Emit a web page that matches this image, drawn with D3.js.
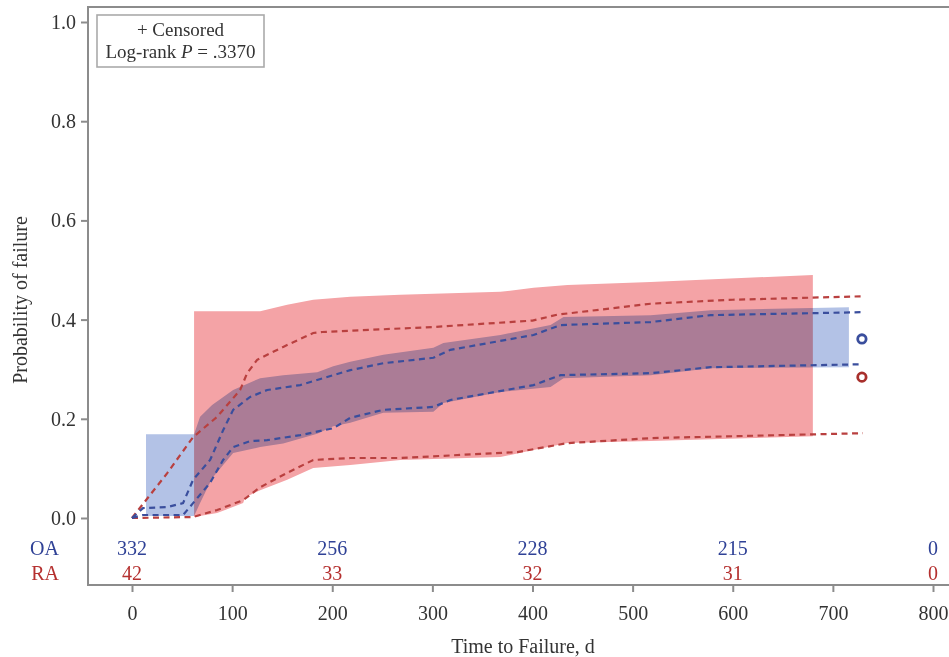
<!DOCTYPE html>
<html>
<head>
<meta charset="utf-8">
<script src="https://cdn.jsdelivr.net/npm/d3@7"></script>
<style>
  html, body { margin: 0; padding: 0; background: #fff; }
  svg { display: block; }
  text { font-family: "Liberation Serif", "Times New Roman", serif; }
</style>
</head>
<body>
<svg id="chart" width="949" height="657"></svg>
<script>
// ---------- data ----------
const groups = ["OA", "RA"];
const xTicks = [0, 100, 200, 300, 400, 500, 600, 700, 800];
const yTicks = [0, 0.2, 0.4, 0.6, 0.8, 1.0];
const riskTimes = [0, 200, 400, 600, 800];
const riskOA = [332, 256, 228, 215, 0];
const riskRA = [42, 33, 32, 31, 0];
const logRankP = ".3370";

// OA pointwise confidence band (filled)
const oaBandT     = [14, 62, 68, 80, 101, 128, 151, 185, 201, 218, 251, 301, 311, 368, 418, 431, 518, 578, 716];
const oaBandLower = [0.004, 0.004, 0.030, 0.080, 0.131, 0.143, 0.150, 0.170, 0.185, 0.192, 0.212, 0.214, 0.232, 0.254, 0.264, 0.282, 0.288, 0.302, 0.304];
const oaBandUpper = [0.169, 0.169, 0.204, 0.228, 0.258, 0.282, 0.288, 0.294, 0.306, 0.315, 0.329, 0.343, 0.353, 0.369, 0.389, 0.405, 0.409, 0.419, 0.425];

// RA pointwise confidence band (filled)
const raBandT     = [62, 85, 111, 113, 128, 155, 181, 218, 268, 368, 401, 435, 518, 680];
const raBandLower = [0.002, 0.010, 0.030, 0.042, 0.056, 0.077, 0.101, 0.107, 0.117, 0.123, 0.137, 0.151, 0.155, 0.165];
const raBandUpper = [0.417, 0.417, 0.417, 0.417, 0.417, 0.430, 0.440, 0.446, 0.450, 0.456, 0.464, 0.470, 0.476, 0.490];

// OA dashed limits
const oaDashT     = [0, 11, 35, 51, 61, 78, 91, 101, 118, 135, 168, 201, 218, 251, 301, 318, 401, 428, 518, 578, 730];
const oaDashUpper = [0, 0.020, 0.022, 0.030, 0.077, 0.117, 0.177, 0.218, 0.244, 0.258, 0.268, 0.288, 0.298, 0.312, 0.323, 0.339, 0.369, 0.389, 0.395, 0.409, 0.415];
const oaDashLower = [0, 0.006, 0.006, 0.006, 0.030, 0.071, 0.117, 0.143, 0.155, 0.157, 0.167, 0.181, 0.202, 0.218, 0.224, 0.238, 0.268, 0.288, 0.292, 0.304, 0.310];

// RA dashed limits
const raDashT     = [0, 35, 61, 85, 108, 115, 125, 151, 181, 190, 300, 400, 425, 518, 600, 730];
const raDashUpper = [0, 0.090, 0.163, 0.204, 0.258, 0.292, 0.319, 0.345, 0.373, 0.375, 0.385, 0.398, 0.410, 0.432, 0.440, 0.447];
const raDashLowT  = [0, 61, 85, 111, 128, 155, 181, 218, 268, 385, 435, 518, 730];
const raDashLower = [0, 0.002, 0.016, 0.036, 0.062, 0.091, 0.117, 0.121, 0.121, 0.133, 0.151, 0.161, 0.171];

// censored marks (estimate at last follow-up)
const censorT = [729, 729];
const censorP = [0.361, 0.284];

// ---------- styles ----------
const blueText = "#2f4196", redText = "#b5302f";
const blueFill = "#b3c2e6", redFill = "#f4a3a6";
const blueDash = "#3a4e9d", redDash = "#b9403f";
const frameCol = "#8c8c8c";

// ---------- scales ----------
const svg = d3.select("#chart");
const x = d3.scaleLinear().domain([0, 800]).range([132, 933]);
const y = d3.scaleLinear().domain([0, 1]).range([518, 22]);

// ---------- bands ----------
const bandG = svg.append("g").style("isolation", "isolate");
function band(ts, lo, hi, color) {
  const pts = ts.map((t, i) => ({t, lo: lo[i], hi: hi[i]}));
  bandG.append("path")
    .datum(pts)
    .attr("d", d3.area().x(d => x(d.t)).y0(d => y(d.lo)).y1(d => y(d.hi)))
    .attr("fill", color)
    .style("mix-blend-mode", "multiply");
}
band(raBandT, raBandLower, raBandUpper, redFill);
band(oaBandT, oaBandLower, oaBandUpper, blueFill);

// ---------- dashed lines ----------
function dashed(ts, vals, color) {
  svg.append("path")
    .datum(ts.map((t, i) => [t, vals[i]]))
    .attr("d", d3.line().x(d => x(d[0])).y(d => y(d[1])))
    .attr("fill", "none")
    .attr("stroke", color)
    .attr("stroke-width", 2.2)
    .attr("stroke-dasharray", "6,4.5");
}
dashed(raDashT, raDashUpper, redDash);
dashed(raDashLowT, raDashLower, redDash);
dashed(oaDashT, oaDashUpper, blueDash);
dashed(oaDashT, oaDashLower, blueDash);

// ---------- censor markers ----------
const censorCols = [blueDash, "#a8302c"];
censorT.forEach((t, i) => {
  svg.append("circle")
    .attr("cx", x(t)).attr("cy", y(censorP[i])).attr("r", 4.2)
    .attr("fill", "#fff").attr("stroke", censorCols[i]).attr("stroke-width", 2.8);
});

// ---------- frame ----------
svg.append("path")
  .attr("d", "M949,7H88V585H949")
  .attr("fill", "none").attr("stroke", frameCol).attr("stroke-width", 2);

// ---------- axes ----------
const yAxis = svg.append("g").attr("transform", "translate(88,0)")
  .call(d3.axisLeft(y).tickValues(yTicks).tickFormat(d3.format(".1f")).tickSize(7).tickPadding(5));
const xAxis = svg.append("g").attr("transform", "translate(0,585)")
  .call(d3.axisBottom(x).tickValues(xTicks).tickFormat(d3.format("d")).tickSize(7).tickPadding(14));
[yAxis, xAxis].forEach(a => {
  a.select(".domain").remove();
  a.selectAll(".tick line").attr("stroke", frameCol).attr("stroke-width", 2);
  a.selectAll(".tick text").attr("fill", "#333").style("font-size", "20px")
    .style("font-family", '"Liberation Serif", serif');
});

// axis titles
svg.append("text")
  .attr("transform", "translate(27,300) rotate(-90)")
  .attr("text-anchor", "middle").attr("fill", "#333")
  .style("font-size", "20px").text("Probability of failure");
svg.append("text")
  .attr("x", 523).attr("y", 653)
  .attr("text-anchor", "middle").attr("fill", "#333")
  .style("font-size", "20px").text("Time to Failure, d");

// ---------- at-risk table ----------
const riskRows = [riskOA, riskRA];
const rowY = [555, 580];
const rowCol = [blueText, redText];
groups.forEach((g, r) => {
  svg.append("text").attr("x", 59).attr("y", rowY[r]).attr("text-anchor", "end")
    .attr("fill", rowCol[r]).style("font-size", "20px").text(g);
  svg.selectAll(null).data(riskTimes).enter().append("text")
    .attr("x", d => x(d)).attr("y", rowY[r]).attr("text-anchor", "middle")
    .attr("fill", rowCol[r]).style("font-size", "20px")
    .text((d, i) => riskRows[r][i]);
});

// ---------- legend ----------
svg.append("rect").attr("x", 97).attr("y", 15).attr("width", 167).attr("height", 52)
  .attr("fill", "#fff").attr("stroke", "#aaa").attr("stroke-width", 1.6);
svg.append("text").attr("x", 180.5).attr("y", 36).attr("text-anchor", "middle")
  .attr("fill", "#333").style("font-size", "19px").text("+ Censored");
const lr = svg.append("text").attr("x", 180.5).attr("y", 58).attr("text-anchor", "middle")
  .attr("fill", "#333").style("font-size", "19px");
lr.append("tspan").text("Log-rank ");
lr.append("tspan").style("font-style", "italic").text("P");
lr.append("tspan").text(" = " + logRankP);
</script>
</body>
</html>
